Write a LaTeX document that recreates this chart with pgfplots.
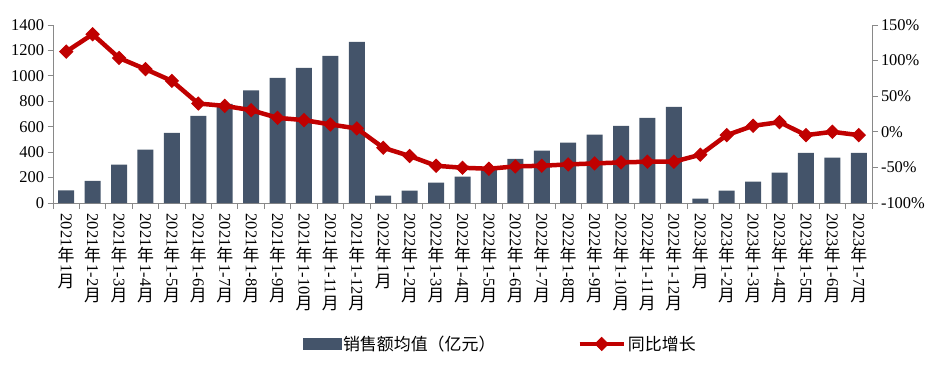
\documentclass[border=0pt]{standalone}
\usepackage{pgfplots}
\pgfplotsset{compat=1.18}
\usepackage{graphicx}
\usepackage{fontspec}
\setmainfont{Liberation Serif}
\newfontfamily\cjk{Noto Sans CJK SC}
\definecolor{barc}{HTML}{44546A}
\definecolor{linec}{HTML}{C00000}
\definecolor{axc}{HTML}{898989}

\newcommand{\cj}[1]{{\cjk\fontsize{17}{17}\selectfont\vrule width 0pt height 15bp depth 3bp #1}}
\newcommand{\vlab}[2]{\vtop{\offinterlineskip\halign{\hfil##\hfil\cr\rotatebox{-90}{#1}\cr\cj{年}\cr\rotatebox{-90}{#2}\cr\cj{月}\cr}}}

\pgfplotsset{
 common/.style={
  scale only axis, width=819bp, height=178bp, at={(0,0)}, anchor=south west,
  xmin=-0.5, xmax=30.5,
  tick align=outside,
  major tick length=5.5bp,
  axis line style={draw=axc, line width=0.9bp, -},
  tick style={draw=axc, line width=0.9bp},
  /pgf/number format/assume math mode=true,
  ticklabel style={font=\fontsize{16.5}{16.5}\selectfont},
 },
 linelegend/.style={legend image code/.code={\draw[mark repeat=2, mark phase=2, ##1] plot coordinates {(0bp,0bp) (22bp,0bp) (44bp,0bp)};}},
 barlegend/.style={legend image code/.code={\fill[barc] (0bp,-5.5bp) rectangle (38bp,5.5bp);}},
}

\begin{document}
\begin{tikzpicture}
\path[use as bounding box] (-53bp,-165bp) rectangle (886bp,203bp);
\begin{axis}[common, ybar, bar width=16bp, ymin=0, ymax=1400,
  axis y line*=left, axis x line*=bottom,
  ytick={0,200,...,1400}, yticklabels={0,200,400,600,800,1000,1200,1400},
  xtick={-0.5,0.5,...,30.5}, x tick label as interval,
  xticklabel style={anchor=north, inner sep=0pt, yshift=-5bp, font=\fontsize{16.5}{16.5}\selectfont},
  xticklabels={\vlab{2021}{1},\vlab{2021}{1-2},\vlab{2021}{1-3},\vlab{2021}{1-4},\vlab{2021}{1-5},\vlab{2021}{1-6},\vlab{2021}{1-7},\vlab{2021}{1-8},\vlab{2021}{1-9},\vlab{2021}{1-10},\vlab{2021}{1-11},\vlab{2021}{1-12},
  \vlab{2022}{1},\vlab{2022}{1-2},\vlab{2022}{1-3},\vlab{2022}{1-4},\vlab{2022}{1-5},\vlab{2022}{1-6},\vlab{2022}{1-7},\vlab{2022}{1-8},\vlab{2022}{1-9},\vlab{2022}{1-10},\vlab{2022}{1-11},\vlab{2022}{1-12},
  \vlab{2023}{1},\vlab{2023}{1-2},\vlab{2023}{1-3},\vlab{2023}{1-4},\vlab{2023}{1-5},\vlab{2023}{1-6},\vlab{2023}{1-7}},
]
\addplot[fill=barc, draw=none] coordinates {
(0,100) (1,175) (2,301) (3,419) (4,552) (5,686) (6,780) (7,885) (8,984) (9,1063) (10,1157) (11,1267)
(12,58) (13,97) (14,160) (15,207) (16,270) (17,348) (18,411) (19,474) (20,537) (21,607) (22,670) (23,757)
(24,34) (25,97) (26,168) (27,238) (28,395) (29,356) (30,395)};
\end{axis}
\begin{axis}[common, ymin=-100, ymax=150,
  axis y line*=right, axis x line=none,
  ytick={-100,-50,0,50,100,150}, yticklabels={-100\%,-50\%,0\%,50\%,100\%,150\%},
  legend style={at={(0.546,-0.792)}, anchor=center, draw=none, fill=none, legend columns=2,
    font=\cjk\fontsize{17}{17}\selectfont, /tikz/every even column/.append style={column sep=80bp}},
  legend cell align=left,
]
\addlegendimage{barlegend}
\addlegendentry{销售额均值（亿元）}
\addplot[linec, line width=4.5bp, mark=square*, mark size=4.6bp, mark options={rotate=45, fill=linec, line width=1bp}, linelegend]
 coordinates {
(0,112.6) (1,137) (2,103.7) (3,88) (4,71.5) (5,39.7) (6,36.4) (7,30.4) (8,19.6) (9,16.4) (10,10.3) (11,4.7)
(12,-22.4) (13,-34) (14,-47.7) (15,-50.5) (16,-51.9) (17,-48.6) (18,-47.7) (19,-45.8) (20,-44.4) (21,-43) (22,-42) (23,-42)
(24,-32.2) (25,-4.7) (26,8.4) (27,13.6) (28,-4.7) (29,0) (30,-4.7)};
\addlegendentry{同比增长}
\end{axis}
\end{tikzpicture}
\end{document}
